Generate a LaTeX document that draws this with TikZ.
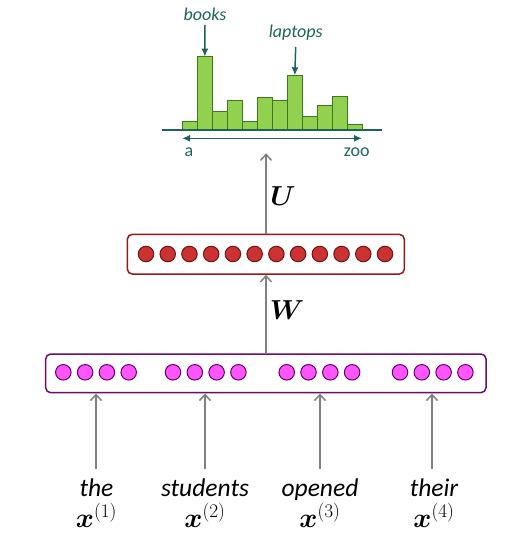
\RequirePackage{fix-cm}
\documentclass[tikz,border=0pt]{standalone}
\usepackage{amsmath,bm}
\usepackage{fontspec}
\setmainfont{Carlito}
\usetikzlibrary{arrows.meta}
\definecolor{teal1}{RGB}{30,100,90}
\definecolor{barfill}{RGB}{146,208,80}
\definecolor{barline}{RGB}{60,120,30}
\definecolor{redfill}{RGB}{204,50,50}
\definecolor{redline}{RGB}{110,20,20}
\definecolor{redbox}{RGB}{150,25,25}
\definecolor{magfill}{RGB}{255,85,255}
\definecolor{magline}{RGB}{100,0,100}
\definecolor{purbox}{RGB}{105,15,105}
\definecolor{arrgray}{RGB}{128,128,128}
\tikzset{
  bar/.style={draw=barline, fill=barfill, line width=0.8pt},
  redneuron/.style={circle, draw=redline, fill=redfill, line width=1pt, minimum width=15.5pt, minimum height=15.5pt, inner sep=0pt},
  magneuron/.style={circle, draw=magline, fill=magfill, line width=1pt, minimum width=15.5pt, inner sep=0pt},
  layerbox/.style={rounded corners=5pt, line width=1.5pt, fill=white},
  grayarrow/.style={draw=arrgray, line width=1.8pt, -{Straight Barb[length=6pt,width=11pt,line width=1.5pt]}},
  tealtext/.style={text=teal1, font=\fontsize{18}{20}\selectfont\itshape, inner sep=0pt},
  axislabel/.style={text=teal1, font=\fontsize{18}{20}\selectfont, inner sep=0pt},
  tealarrow/.style={draw=teal1, line width=1.5pt, -{Latex[length=8pt,width=7pt]}},
  word/.style={font=\fontsize{25.5}{27}\selectfont\itshape, inner sep=0pt, anchor=base},
  vecx/.style={font=\fontsize{27.5}{30}\selectfont, inner sep=0pt, anchor=base},
  matlabel/.style={font=\fontsize{27.5}{30}\selectfont, inner sep=0pt}
}
\begin{document}
\begin{tikzpicture}[x=1pt,y=-1pt]
\useasboundingbox (0,0) rectangle (528,556);
% histogram
\foreach \i/\h in {0/121.3,1/56.7,2/111.3,3/100,4/121.3,5/97.3,6/100,7/75.3,8/116.3,9/105.3,10/96.3,11/124.3}{
  \draw[bar] ({182.3+15*\i},130) rectangle ({197.3+15*\i},\h);
}
\coordinate (axL) at (161.7,130);
\coordinate (axR) at (382,130);
\draw[teal1, line width=1.8pt] (axL) -- (axR);
\coordinate (rngL) at (182,138.3);
\coordinate (rngR) at (362,138.3);
\draw[teal1, line width=1.5pt, {Latex[length=8pt,width=7pt]}-{Latex[length=8pt,width=7pt]}] (rngL) -- (rngR);
\node[axislabel] (a) at (189,152) {a};
\node[axislabel] (zoo) at (356.7,152) {zoo};
\node[tealtext] (books) at (205,14) {books};
\node[tealtext] (laptops) at (295.7,33) {laptops};
\coordinate (booksTop) at (204.8,56.7);
\coordinate (lapTop) at (294.8,75.3);
\draw[tealarrow] (books.south |- 0,25) -- (booksTop);
\draw[tealarrow] (laptops.south |- 0,47) -- (lapTop);
% hidden layer (red)
\node[layerbox, draw=redbox, minimum width=277pt, minimum height=39.7pt, inner sep=0pt] (hid) at (265.8,254.2) {};
\foreach \i in {0,...,11}{
  \node[redneuron] (r\i) at ({146+21.727*\i},254) {};
}
% input layer (purple)
\node[layerbox, draw=purbox, minimum width=440.3pt, minimum height=38.7pt, inner sep=0pt] (inp) at (265.85,373.35) {};
\foreach \g/\s in {0/63.3,1/173,2/286.7,3/400}{
  \foreach \j in {0,...,3}{
    \node[magneuron] (m\g\j) at ({\s+21.8*\j},372.3) {};
  }
}
% top arrow U
\coordinate (outBot) at (266,153.3);
\draw[grayarrow] (hid.north -| outBot) -- (outBot);
\node[matlabel] (U) at (283,196) {$\bm{U}$};
% W arrow
\draw[grayarrow] (inp.north -| 266,0) -- (hid.south -| 266,0);
\node[matlabel] (W) at (287,310) {$\bm{W}$};
% words
\foreach \n/\x/\w/\k/\ax in {1/96.5/the/1/96,2/205/students/2/205,3/320/opened/3/320,4/434/their/4/432}{
  \node[word] (w\n) at (\x,496) {\w};
  \node[vecx] (x\n) at (\x,527) {$\bm{x}^{(\k)}$};
  \coordinate (b\n) at (\ax,469.3);
  \draw[grayarrow] (b\n) -- (b\n |- inp.south);
}
\end{tikzpicture}
\end{document}
